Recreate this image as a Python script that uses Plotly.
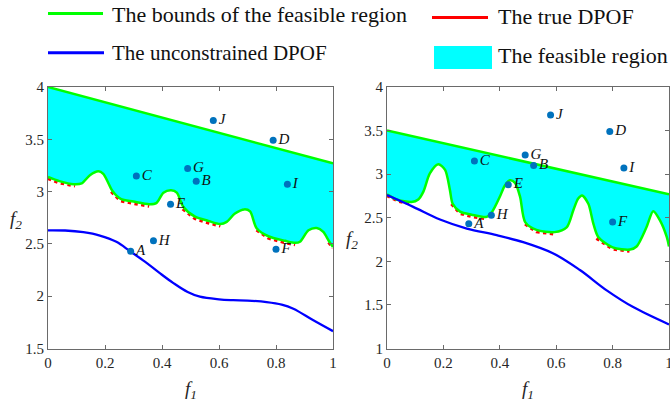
import plotly.graph_objects as go

# ---------------- data ----------------
point_labels = ['A', 'B', 'C', 'D', 'E', 'F', 'G', 'H', 'I', 'J']
point_f1 = [0.29, 0.52, 0.31, 0.79, 0.43, 0.80, 0.49, 0.37, 0.84, 0.58]
point_f2 = [2.43, 3.10, 3.15, 3.49, 2.88, 2.45, 3.22, 2.53, 3.07, 3.68]

# left panel
upper1_x = [0.0, 1.0]
upper1_y = [4.0, 3.27]
lower1_x = [0, 0.04, 0.09, 0.118, 0.147, 0.177, 0.194, 0.212, 0.225, 0.255, 0.30, 0.355, 0.38,
            0.405, 0.432, 0.452, 0.475, 0.516, 0.5625, 0.604, 0.627, 0.656, 0.689, 0.709, 0.732,
            0.773, 0.832, 0.867, 0.884, 0.914, 0.943, 0.966, 0.985, 1.0]
lower1_y = [3.14, 3.10, 3.07, 3.078, 3.157, 3.195, 3.17, 3.08, 3.01, 2.93, 2.905, 2.88, 2.89,
            2.99, 3.013, 2.99, 2.853, 2.76, 2.72, 2.69, 2.71, 2.79, 2.83, 2.81, 2.65,
            2.573, 2.53, 2.51, 2.52, 2.63, 2.652, 2.614, 2.53, 2.47]
true1_x = [0.0, 0.04, 0.095, None, 0.222, 0.255, 0.30, 0.355, None, 0.473, 0.516, 0.5625, 0.605,
           None, 0.732, 0.773, 0.832, 0.867, None, 0.985, 1.0]
true1_y = [3.125, 3.085, 3.055, None, 3.0, 2.912, 2.888, 2.862, None, 2.835, 2.742, 2.702, 2.672,
           None, 2.635, 2.556, 2.513, 2.493, None, 2.515, 2.46]
unc1_x = [0, 0.06, 0.124, 0.182, 0.24, 0.288, 0.34, 0.39, 0.44, 0.49, 0.533, 0.6, 0.65, 0.7,
          0.767, 0.82, 0.861, 0.931, 1.0]
unc1_y = [2.63, 2.628, 2.612, 2.58, 2.52, 2.43, 2.33, 2.225, 2.125, 2.04, 1.995, 1.97, 1.962, 1.958,
          1.944, 1.92, 1.88, 1.77, 1.666]

# right panel
upper2_x = [0.0, 1.0]
upper2_y = [3.5, 2.77]
lower2_x = [0, 0.034, 0.087, 0.111, 0.129, 0.152, 0.182, 0.206, 0.223, 0.233, 0.259, 0.30, 0.353,
            0.373, 0.40, 0.418, 0.436, 0.454, 0.472, 0.49, 0.53, 0.594, 0.637, 0.661, 0.678, 0.692,
            0.714, 0.732, 0.749, 0.80, 0.862, 0.885, 0.92, 0.944, 0.968, 0.992, 1.0]
lower2_y = [2.77, 2.71, 2.68, 2.71, 2.80, 3.01, 3.115, 3.05, 2.82, 2.66, 2.57, 2.535, 2.51,
            2.57, 2.74, 2.87, 2.93, 2.90, 2.74, 2.45, 2.36, 2.335, 2.39, 2.59, 2.72, 2.755,
            2.66, 2.43, 2.28, 2.16, 2.135, 2.17, 2.39, 2.575, 2.47, 2.28, 2.17]
true2_x = [0.0, 0.04, 0.087, None, 0.229, 0.259, 0.30, 0.348, None, 0.49, 0.53, 0.60,
           None, 0.743, 0.80, 0.86]
true2_y = [2.755, 2.69, 2.662, None, 2.66, 2.55, 2.515, 2.493, None, 2.43, 2.34, 2.313,
           None, 2.265, 2.143, 2.118]
unc2_x = [0, 0.093, 0.188, 0.283, 0.389, 0.483, 0.59, 0.684, 0.779, 0.873, 1.0]
unc2_y = [2.76, 2.625, 2.48, 2.376, 2.30, 2.22, 2.09, 1.90, 1.667, 1.475, 1.276]

x_ticks = [0, 0.2, 0.4, 0.6, 0.8, 1]
x_ticktext = ['0', '0.2', '0.4', '0.6', '0.8', '1']

legend_names = ['The bounds of the feasible region', 'The true DPOF',
                'The unconstrained DPOF', 'The feasible region']

# ---------------- styles ----------------
GREEN = '#00FF00'
RED = '#FF0000'
BLUE = '#0000FF'
CYAN = '#00FFFF'
DOT = '#0072BD'
SERIF = 'Liberation Serif, Times New Roman, serif'
W, H = 670, 401

fig = go.Figure()

panels = [
    (upper1_x, upper1_y, lower1_x, lower1_y, true1_x, true1_y, unc1_x, unc1_y, 'x', 'y'),
    (upper2_x, upper2_y, lower2_x, lower2_y, true2_x, true2_y, unc2_x, unc2_y, 'x2', 'y2'),
]
for ux, uy, lx, ly, tx, ty, cx, cy, xa, ya in panels:
    fig.add_trace(go.Scatter(x=tx, y=ty, mode='lines', xaxis=xa, yaxis=ya,
                             line=dict(color=RED, width=3.4, dash='dot'), hoverinfo='skip'))
    fig.add_trace(go.Scatter(x=lx, y=ly, mode='lines', xaxis=xa, yaxis=ya,
                             line=dict(color=GREEN, width=2.5, shape='spline', smoothing=0.8),
                             hoverinfo='skip'))
    fig.add_trace(go.Scatter(x=ux, y=uy, mode='lines', xaxis=xa, yaxis=ya, fill='tonexty',
                             fillcolor=CYAN, line=dict(color=GREEN, width=2.5), hoverinfo='skip'))
    fig.add_trace(go.Scatter(x=cx, y=cy, mode='lines', xaxis=xa, yaxis=ya,
                             line=dict(color=BLUE, width=2.3, shape='spline', smoothing=1.0),
                             hoverinfo='skip'))
    fig.add_trace(go.Scatter(x=point_f1, y=point_f2, mode='markers+text', xaxis=xa, yaxis=ya,
                             marker=dict(color=DOT, size=7),
                             text=['<i>%s</i>' % s for s in point_labels],
                             textposition='middle right',
                             textfont=dict(family=SERIF, size=15, color='#111111'),
                             hoverinfo='skip'))

axis_common = dict(showline=True, linecolor='#6a6a6a', linewidth=1, mirror='ticks',
                   ticks='inside', ticklen=4, tickcolor='#6a6a6a', showgrid=False,
                   zeroline=False, automargin=False, ticklabeloverflow='allow',
                   tickfont=dict(family=SERIF, size=15, color='#262626'))

ydom = [1 - 348.5 / H, 1 - 87 / H]
fig.update_layout(
    width=W, height=H, margin=dict(l=0, r=0, t=0, b=0, pad=0, autoexpand=False),
    paper_bgcolor='white', plot_bgcolor='white', showlegend=False,
    font=dict(family=SERIF),
    xaxis=dict(domain=[48 / W, 333 / W], range=[0, 1], tickvals=x_ticks, ticktext=x_ticktext,
               anchor='y', **axis_common),
    yaxis=dict(domain=ydom, range=[1.5, 4], dtick=0.5, anchor='x', **axis_common),
    xaxis2=dict(domain=[387 / W, 669 / W], range=[0, 1], tickvals=x_ticks, ticktext=x_ticktext,
                anchor='y2', **axis_common),
    yaxis2=dict(domain=ydom, range=[1, 4], dtick=0.5, anchor='x2', **axis_common),
)

def px(xp, yp):
    return xp / W, 1 - yp / H

# axis titles
for (xp, yp, txt) in [(190.5, 390, '<i>f<sub>1</sub></i>'), (528, 390, '<i>f<sub>1</sub></i>'),
                      (16, 220, '<i>f<sub>2</sub></i>'), (352, 240, '<i>f<sub>2</sub></i>')]:
    ax, ay = px(xp, yp)
    fig.add_annotation(x=ax, y=ay, xref='paper', yref='paper', text=txt, showarrow=False,
                       xanchor='center', yanchor='middle',
                       font=dict(family=SERIF, size=19, color='#262626'))

# legend (manual)
leg_lines = [(48, 103, 13.5, GREEN), (432, 488, 17.5, RED), (48, 104, 52.7, BLUE)]
for x0, x1, yy, col in leg_lines:
    a0, b0 = px(x0, yy)
    a1, _ = px(x1, yy)
    fig.add_shape(type='line', xref='paper', yref='paper', x0=a0, x1=a1, y0=b0, y1=b0,
                  line=dict(color=col, width=3))
r0x, r0y = px(434, 46)
r1x, r1y = px(492, 69)
fig.add_shape(type='rect', xref='paper', yref='paper', x0=r0x, x1=r1x, y0=r1y, y1=r0y,
              fillcolor=CYAN, line=dict(width=0))
for (xp, yp, txt, fs) in [(110, 14, legend_names[0], 22), (496, 16.5, legend_names[1], 22),
                          (110, 53, legend_names[2], 21), (496, 55.5, legend_names[3], 22)]:
    ax, ay = px(xp, yp)
    fig.add_annotation(x=ax, y=ay, xref='paper', yref='paper', text=txt, showarrow=False,
                       xanchor='left', yanchor='middle',
                       font=dict(family=SERIF, size=fs, color='#111111'))

fig.write_html('out.html', config={'displayModeBar': False},
               post_script="document.body.style.margin='0';"
               "document.body.style.overflow='hidden';")
